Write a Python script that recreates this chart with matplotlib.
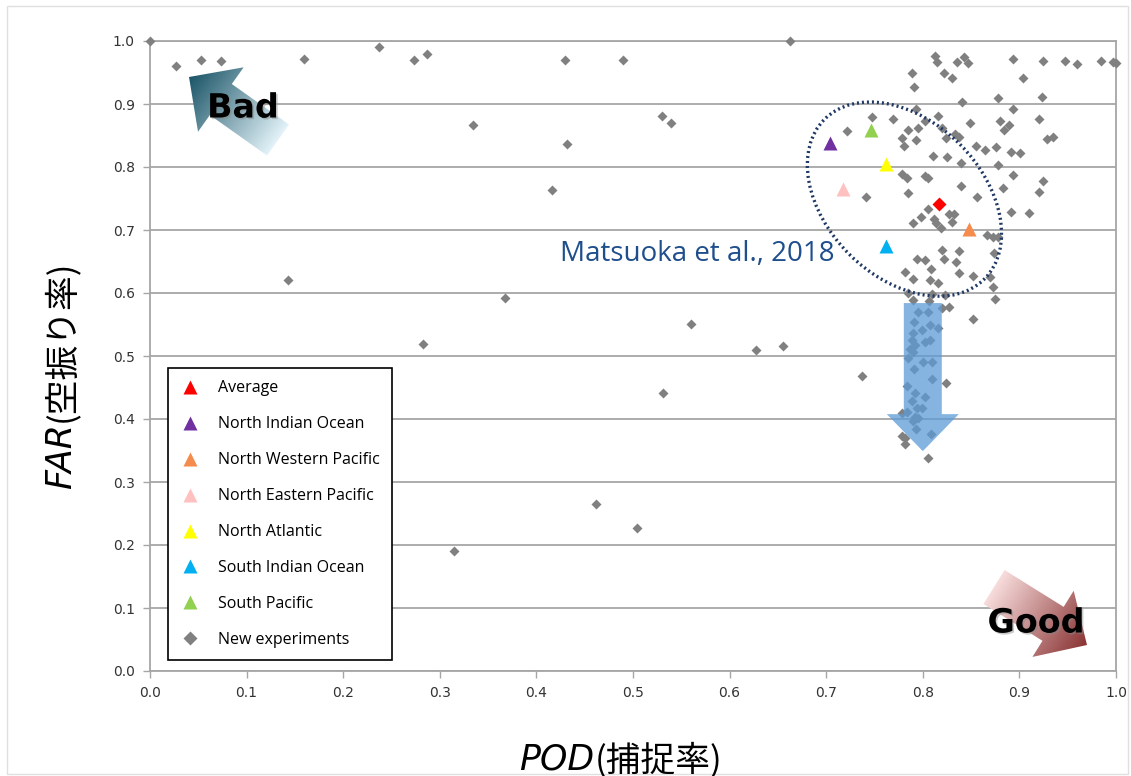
import matplotlib.pyplot as plt
import numpy as np
from matplotlib.lines import Line2D
from matplotlib.patches import Ellipse, FancyArrow, Rectangle
from matplotlib.colors import LinearSegmentedColormap
from matplotlib.transforms import ScaledTranslation
import matplotlib.patheffects as pe

plt.rcParams['font.family'] = ['DejaVu Sans', 'Noto Sans CJK JP']

# New experiments (POD, FAR)
pod = [0.000, 0.027, 0.053, 0.073, 0.159, 0.237, 0.273, 0.287, 0.334, 0.143,
       0.283, 0.367, 0.430, 0.490, 0.432, 0.530, 0.539, 0.416, 0.560, 0.627,
       0.655, 0.663, 0.531, 0.462, 0.504, 0.315, 0.737, 0.741, 0.722, 0.747,
       0.769,
       0.813, 0.815, 0.835, 0.843, 0.847, 0.893, 0.924, 0.947, 0.960, 0.984,
       0.997, 1.000, 0.789, 0.791, 0.822, 0.830, 0.904, 0.841, 0.878, 0.923,
       0.793, 0.816, 0.802, 0.893, 0.920, 0.849, 0.880, 0.889, 0.884, 0.785,
       0.795, 0.820, 0.778, 0.781, 0.793, 0.833, 0.837, 0.824, 0.929, 0.935,
       0.855, 0.864, 0.876, 0.891, 0.901, 0.811, 0.825, 0.840, 0.878,
       0.778, 0.784, 0.802, 0.805, 0.893, 0.924, 0.840, 0.883, 0.920, 0.785,
       0.856, 0.805, 0.798, 0.790, 0.812, 0.814, 0.827, 0.832, 0.830, 0.819,
       0.891, 0.910, 0.866, 0.873, 0.878, 0.820, 0.837, 0.794, 0.802, 0.822,
       0.834, 0.808, 0.874, 0.782, 0.837, 0.852, 0.790, 0.807, 0.816, 0.870,
       0.873, 0.785, 0.810, 0.823, 0.875,
       0.790, 0.806, 0.820, 0.827, 0.852, 0.795, 0.805, 0.791, 0.807, 0.799,
       0.816, 0.790, 0.789, 0.802, 0.807, 0.792, 0.787, 0.790, 0.785, 0.800,
       0.810, 0.791, 0.810, 0.824, 0.784, 0.792, 0.802, 0.789, 0.794, 0.799,
       0.784, 0.778, 0.792, 0.795, 0.790, 0.793, 0.808, 0.778, 0.782, 0.782,
       0.805]
far = [1.000, 0.960, 0.970, 0.968, 0.971, 0.990, 0.970, 0.979, 0.867, 0.621,
       0.519, 0.592, 0.970, 0.970, 0.837, 0.881, 0.870, 0.763, 0.551, 0.510,
       0.516, 1.000, 0.441, 0.265, 0.227, 0.190, 0.468, 0.752, 0.857, 0.879,
       0.876,
       0.976, 0.967, 0.967, 0.975, 0.965, 0.971, 0.968, 0.968, 0.963, 0.968,
       0.967, 0.965, 0.949, 0.927, 0.949, 0.941, 0.941, 0.903, 0.910, 0.911,
       0.892, 0.881, 0.873, 0.892, 0.876, 0.870, 0.873, 0.867, 0.859, 0.859,
       0.862, 0.862, 0.846, 0.833, 0.843, 0.852, 0.848, 0.846, 0.844, 0.848,
       0.833, 0.827, 0.832, 0.824, 0.822, 0.817, 0.816, 0.806, 0.803,
       0.789, 0.783, 0.786, 0.783, 0.787, 0.778, 0.770, 0.767, 0.760, 0.759,
       0.752, 0.733, 0.721, 0.711, 0.717, 0.711, 0.725, 0.725, 0.713, 0.703,
       0.729, 0.727, 0.692, 0.689, 0.689, 0.668, 0.667, 0.654, 0.652, 0.654,
       0.649, 0.638, 0.663, 0.633, 0.632, 0.627, 0.622, 0.621, 0.616, 0.625,
       0.610, 0.600, 0.598, 0.597, 0.590,
       0.589, 0.587, 0.576, 0.578, 0.559, 0.570, 0.570, 0.554, 0.549, 0.541,
       0.544, 0.537, 0.525, 0.522, 0.525, 0.517, 0.511, 0.506, 0.497, 0.490,
       0.490, 0.479, 0.463, 0.457, 0.452, 0.441, 0.435, 0.429, 0.417, 0.417,
       0.411, 0.410, 0.403, 0.402, 0.397, 0.384, 0.376, 0.373, 0.370, 0.360,
       0.338]

# Matsuoka et al. 2018 results per basin
regions = ['Average', 'North Indian Ocean', 'North Western Pacific',
           'North Eastern Pacific', 'North Atlantic', 'South Indian Ocean',
           'South Pacific']
region_colors = ['#FF0000', '#7030A0', '#F58B4C', '#FFC0C0', '#FFFF00',
                 '#00B0F0', '#92D050']
region_pod = [0.817, 0.704, 0.848, 0.717, 0.762, 0.762, 0.746]
region_far = [0.741, 0.838, 0.702, 0.765, 0.805, 0.675, 0.859]

W, H = 1131, 776
fig = plt.figure(figsize=(W / 100, H / 100), dpi=100)
ax = fig.add_axes([150 / W, 1 - 671 / H, 966 / W, 630 / H])

ax.plot(pod, far, 'D', color='#808080', ms=5.3, mec='none', ls='none',
        zorder=3, clip_on=False)
for name, c, x, y in zip(regions, region_colors, region_pod, region_far):
    mk = 'D' if name == 'Average' else '^'
    ax.plot(x, y, mk, color=c, ms=9.5 if mk == '^' else 7.5, mec='none',
            zorder=4)

ax.set_xlim(0, 1)
ax.set_ylim(0, 1)
ax.set_xticks(np.arange(0, 1.01, 0.1))
ax.set_yticks(np.arange(0, 1.01, 0.1))
ax.xaxis.set_major_formatter('{x:.1f}')
ax.yaxis.set_major_formatter('{x:.1f}')
ax.grid(axis='y', color='#A6A6A6', lw=1.3)
ax.set_axisbelow(True)
for s in ax.spines.values():
    s.set_color('#A6A6A6')
    s.set_linewidth(1.3)
ax.tick_params(length=5, width=1, color='#A6A6A6', labelsize=10,
               labelcolor='#333333', pad=6)

# dotted ellipse round the Matsuoka et al. results
ell = Ellipse((0, 0), 2.26, 1.56, angle=-45, fill=False, ec='#1F3864',
              lw=2.4, ls=(0, (0.6, 0.9)),
              transform=fig.dpi_scale_trans + ScaledTranslation(0.781, 0.749, ax.transData),
              zorder=6)
ax.add_patch(ell)
ax.text(0.567, 0.662, 'Matsuoka et al., 2018', color='#1F4E8C', fontsize=20,
        family='Open Sans', ha='center', va='center', zorder=6)

# blue arrow
ax.add_patch(FancyArrow(0.800, 0.584, 0, -0.235, width=0.0393,
                        head_width=0.0745, head_length=0.0587,
                        length_includes_head=True, color='#5B9BD5',
                        alpha=0.75, lw=0, zorder=5))

handles = [Line2D([], [], marker='^', ls='none', color=c, ms=10, mec='none')
           for c in region_colors]
handles.append(Line2D([], [], marker='D', ls='none', color='#808080', ms=7.5,
                      mec='none'))
leg = ax.legend(handles, regions + ['New experiments'], loc='lower left',
                bbox_to_anchor=(0.0186, 0.0175), borderaxespad=0,
                fancybox=False, edgecolor='black', framealpha=1,
                prop={'family': 'Open Sans', 'size': 11.5}, labelspacing=1.25,
                handletextpad=1.1, borderpad=0.75, handlelength=1.3)
leg.get_frame().set_linewidth(1.2)
leg.set_zorder(7)

# overlay in pixel units for the Bad / Good arrows
ov = fig.add_axes([0, 0, 1, 1])
ov.axis('off')


def grad_arrow(tail, tip, width, head_w, head_l, c_tail, c_tip):
    dx, dy = tip[0] - tail[0], tip[1] - tail[1]
    arr = FancyArrow(tail[0], tail[1], dx, dy, width=width, head_width=head_w,
                     head_length=head_l, length_includes_head=True,
                     fc='none', ec='none')
    ov.add_patch(arr)
    x0, x1 = min(tail[0], tip[0]) - head_w, max(tail[0], tip[0]) + head_w
    y0, y1 = min(tail[1], tip[1]) - head_w, max(tail[1], tip[1]) + head_w
    X, Y = np.meshgrid(np.linspace(x0, x1, 200), np.linspace(y0, y1, 200))
    t = ((X - tail[0]) * dx + (Y - tail[1]) * dy) / (dx * dx + dy * dy)
    cmap = LinearSegmentedColormap.from_list('g', [c_tail, c_tip])
    im = ov.imshow(np.clip(t, 0, 1), cmap=cmap, vmin=0, vmax=1,
                   extent=(x0, x1, y1, y0), origin='upper',
                   interpolation='bilinear')
    im.set_clip_path(arr)


grad_arrow((278, 140), (189, 77), 38, 79, 39, '#E2F2F8', '#1B5568')
grad_arrow((994, 587), (1087, 645), 40, 78, 40, '#F8DCDC', '#8A3434')
ov.set_aspect('auto')
ov.set_xlim(0, W)
ov.set_ylim(H, 0)

shadow = [pe.withSimplePatchShadow(offset=(1.2, -1.2), shadow_rgbFace='#888888',
                                   alpha=0.45)]
ov.text(243, 108, 'Bad', fontsize=24, weight='bold', ha='center',
        va='center', path_effects=shadow)
ov.text(1036, 623, 'Good', fontsize=24, weight='bold', ha='center',
        va='center', path_effects=shadow)

ov.add_patch(Rectangle((7, 6), W - 10, H - 8, fill=False, ec='#E0E0E0', lw=1))

# axis labels: italic Latin part + Japanese part
r = fig.canvas.get_renderer()
jp = ['Noto Sans CJK JP', 'DejaVu Sans']

xa = ov.text(0, 770, 'POD', fontsize=25, style='italic', ha='left',
             va='baseline')
xb = ov.text(0, 770, '(捕捉率)', fontsize=25, family=jp, ha='left',
             va='baseline')
wa = xa.get_window_extent(r).width
wb = xb.get_window_extent(r).width
start = 620 - (wa + wb) / 2
xa.set_x(start)
xb.set_x(start + wa + 1)

ya = ov.text(61, 0, 'FAR', fontsize=25, style='italic', rotation=90,
             ha='center', va='bottom')
yb = ov.text(61, 0, '(空振り率)', fontsize=25, family=jp, rotation=90,
             ha='center', va='bottom')
ha_ = ya.get_window_extent(r).height
hb_ = yb.get_window_extent(r).height
bottom = 375 + (ha_ + hb_) / 2
ya.set_y(bottom)
yb.set_y(bottom - ha_ - 1)

fig.savefig('out.png', dpi=100)
